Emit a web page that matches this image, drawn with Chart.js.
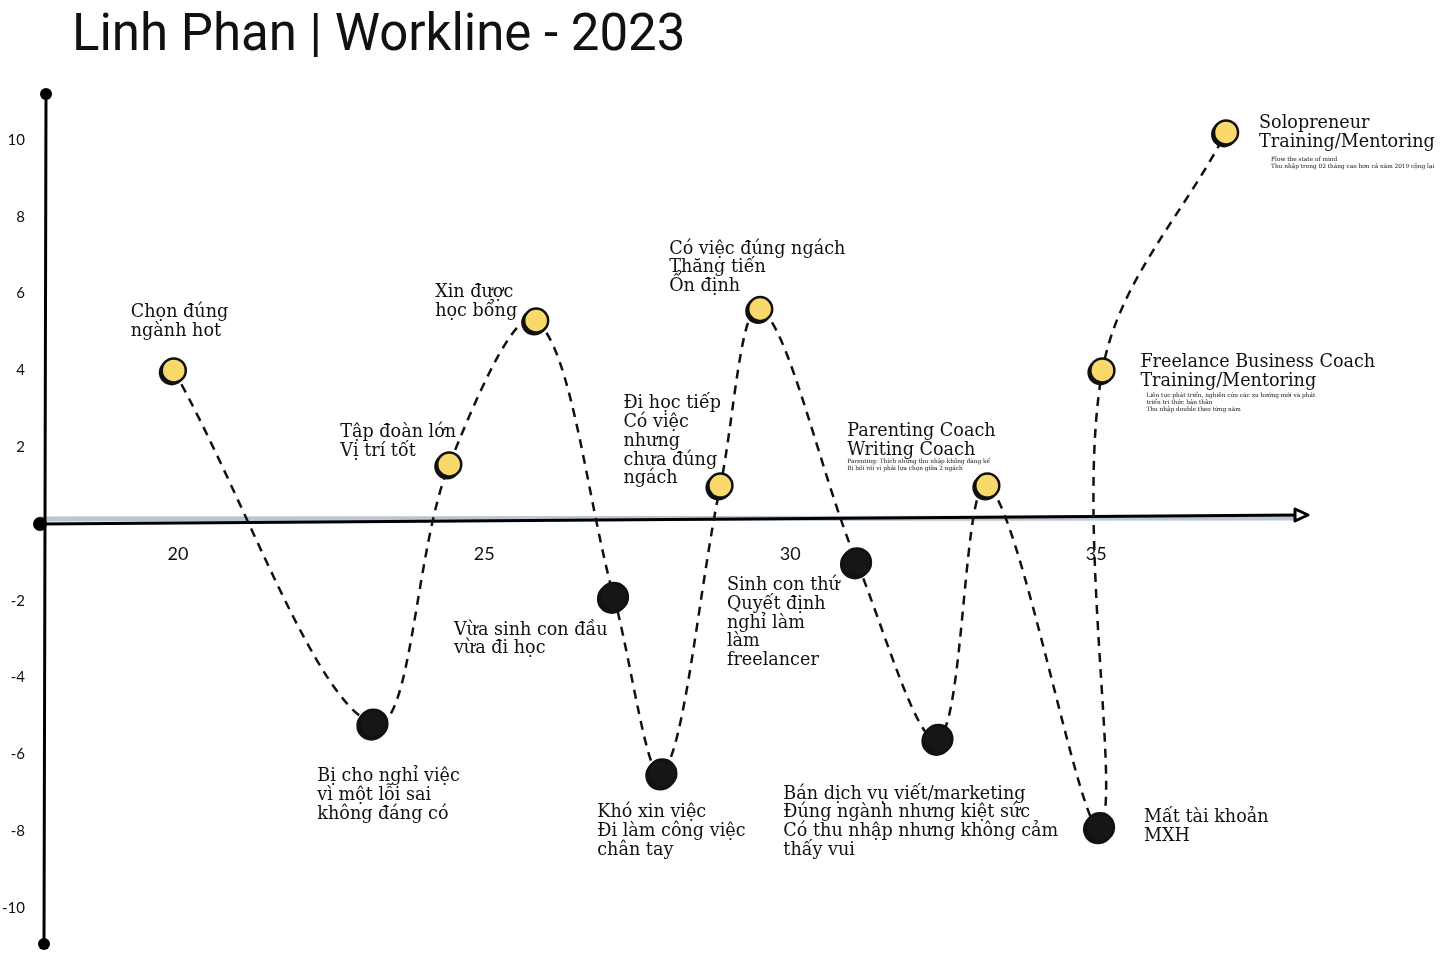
<!DOCTYPE html>
<html lang="vi">
<head>
<meta charset="UTF-8">
<title>Linh Phan | Workline - 2023</title>
<script src="https://cdn.jsdelivr.net/npm/chart.js"></script>
<style>
  body { margin: 0; background: #fff; }
  canvas { display: block; }
</style>
</head>
<body>
<canvas id="workline" width="1456" height="972"></canvas>
<script>
// tuổi (x) và mức độ (y) của từng mốc
const ages   = [19.93, 23.19, 24.43, 25.85, 27.12, 27.91, 28.86, 29.51, 31.09, 32.42, 33.22, 35.06, 35.10, 37.12];
const scores = [4.0, -5.2, 1.55, 5.3, -1.9, -6.5, 1.0, 5.6, -1.0, -5.6, 1.0, -7.9, 4.0, 10.2];

const labels = [
  ['Chọn đúng', 'ngành hot'],
  ['Bị cho nghỉ việc', 'vì một lỗi sai', 'không đáng có'],
  ['Tập đoàn lớn', 'Vị trí tốt'],
  ['Xin được', 'học bổng'],
  ['Vừa sinh con đầu', 'vừa đi học'],
  ['Khó xin việc', 'Đi làm công việc', 'chân tay'],
  ['Đi học tiếp', 'Có việc', 'nhưng', 'chưa đúng', 'ngách'],
  ['Có việc đúng ngách', 'Thăng tiến', 'Ổn định'],
  ['Sinh con thứ', 'Quyết định', 'nghỉ làm', 'làm', 'freelancer'],
  ['Bán dịch vụ viết/marketing', 'Đúng ngành nhưng kiệt sức', 'Có thu nhập nhưng không cảm', 'thấy vui'],
  ['Parenting Coach', 'Writing Coach'],
  ['Mất tài khoản', 'MXH'],
  ['Freelance Business Coach', 'Training/Mentoring'],
  ['Solopreneur', 'Training/Mentoring']
];

const notes = [
  [], [], [], [], [], [], [], [], [], [],
  ['Parenting: Thích những thu nhập không đáng kể', 'Bị bối rối vì phải lựa chọn giữa 2 ngách'],
  [],
  ['Liên tục phát triển, nghiên cứu các xu hướng mới và phát', 'triển tri thức bản thân', 'Thu nhập double theo từng năm'],
  ['Flow the state of mind', 'Thu nhập trong 02 tháng cao hơn cả năm 2019 cộng lại']
];

const xTicks = [20, 25, 30, 35];
const yTicks = [-10, -8, -6, -4, -2, 2, 4, 6, 8, 10];

// vị trí chữ so với điểm (px)
const labelOffsets = [
  [-43, -58], [-56, 53], [-109, -32], [-101, -28], [-160, 33], [-65, 39], [-97, -82],
  [-91, -60], [-130, 23], [-155, 55], [-140, -54], [44, -10], [38, -8], [33, -9]
];
const noteOffsets = [
  null, null, null, null, null, null, null, null, null, null,
  [-140, -24], null, [44, 25], [45, 27]
];

const YELLOW = '#f9d96c';
const INK = '#111';

const axesPlugin = {
  id: 'axes',
  beforeDatasetsDraw(chart) {
    const { ctx } = chart;
    const y = chart.scales.y;
    const left = chart.chartArea.left, top = chart.chartArea.top, bottom = chart.chartArea.bottom;
    const y0 = y.getPixelForValue(0);
    ctx.save();
    ctx.lineCap = 'round';
    // bóng xám trục x
    ctx.strokeStyle = '#bcc6d1';
    ctx.lineWidth = 5;
    ctx.beginPath();
    ctx.moveTo(left - 4, y0 - 5);
    ctx.lineTo(1296, y0 - 6);
    ctx.stroke();
    // trục x
    ctx.strokeStyle = '#000';
    ctx.lineWidth = 3;
    ctx.beginPath();
    ctx.moveTo(left - 4, y0);
    ctx.lineTo(1300, y0 - 9);
    ctx.stroke();
    ctx.lineJoin = 'round';
    ctx.beginPath();
    ctx.moveTo(1295, y0 - 15);
    ctx.lineTo(1308, y0 - 9);
    ctx.lineTo(1295, y0 - 3);
    ctx.closePath();
    ctx.fillStyle = '#fff';
    ctx.fill();
    ctx.stroke();
    // trục y
    ctx.lineWidth = 3;
    ctx.beginPath();
    ctx.moveTo(left + 2, top);
    ctx.lineTo(left, bottom);
    ctx.stroke();
    ctx.fillStyle = '#000';
    [[left + 2, top, 6], [left, bottom, 6], [left - 4, y0, 7]].forEach(([cx, cy, r]) => {
      ctx.beginPath();
      ctx.arc(cx, cy, r, 0, Math.PI * 2);
      ctx.fill();
    });
    // bóng phác họa sau các điểm
    chart.getDatasetMeta(0).data.forEach((pt, i) => {
      ctx.fillStyle = '#111';
      ctx.beginPath();
      ctx.arc(pt.x - 2, pt.y + 2, scores[i] > 0 ? 13 : 15, 0, Math.PI * 2);
      ctx.fill();
    });
    ctx.restore();
  }
};

const textPlugin = {
  id: 'texts',
  afterDatasetsDraw(chart) {
    const { ctx } = chart;
    ctx.save();
    ctx.fillStyle = INK;
    ctx.textBaseline = 'middle';
    ctx.textAlign = 'left';
    const meta = chart.getDatasetMeta(0);
    meta.data.forEach((pt, i) => {
      const [dx, dy] = labelOffsets[i];
      ctx.font = '17.6px "DejaVu Serif"';
      labels[i].forEach((line, k) => ctx.fillText(line, pt.x + dx, pt.y + dy + k * 18.8));
      if (noteOffsets[i]) {
        const [nx, ny] = noteOffsets[i];
        ctx.font = '5.8px "DejaVu Serif"';
        notes[i].forEach((line, k) => ctx.fillText(line, pt.x + nx, pt.y + ny + k * 7));
      }
    });
    // tiêu đề
    ctx.fillStyle = '#111';
    ctx.textBaseline = 'alphabetic';
    ctx.font = '400 51px Roboto';
    ctx.fillText('Linh Phan | Workline - 2023', 72, 50);
    ctx.restore();
  }
};

new Chart(document.getElementById('workline'), {
  type: 'scatter',
  data: {
    datasets: [{
      data: ages.map((a, i) => ({ x: a, y: scores[i] })),
      showLine: true,
      tension: 0.35,
      borderColor: '#111',
      borderWidth: 2.5,
      borderDash: [9, 7],
      pointRadius: ctx => scores[ctx.dataIndex] > 0 ? 12 : 14,
      pointBackgroundColor: ctx => scores[ctx.dataIndex] > 0 ? YELLOW : '#161616',
      pointBorderColor: '#111',
      pointBorderWidth: 2.5
    }]
  },
  options: {
    responsive: false,
    animation: false,
    layout: { padding: { top: 94, bottom: 28, right: 151, left: 0 } },
    plugins: { legend: { display: false }, tooltip: { enabled: false } },
    scales: {
      x: {
        type: 'linear',
        position: { y: 0 },
        min: 17.81,
        max: 38.41,
        afterBuildTicks: s => { s.ticks = xTicks.map(v => ({ value: v })); },
        grid: { display: false, drawTicks: false },
        border: { display: false },
        ticks: { padding: 19, color: '#111', font: { family: 'Lato', size: 18 } }
      },
      y: {
        min: -10.94,
        max: 11.2,
        afterBuildTicks: s => { s.ticks = yTicks.map(v => ({ value: v })); },
        afterFit: s => { s.width = 44; },
        grid: { display: false, drawTicks: false },
        border: { display: false },
        ticks: { padding: 19, color: '#111', font: { family: 'Lato', size: 15 } }
      }
    }
  },
  plugins: [axesPlugin, textPlugin]
});
</script>
</body>
</html>
